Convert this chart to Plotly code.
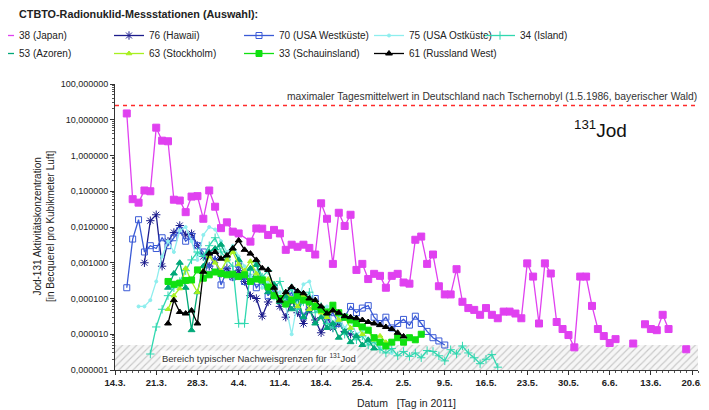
import pandas as pd
import plotly.graph_objects as go

BASE = pd.Timestamp("2011-03-14")

# ---------------- data (day = days after 14.3.2011, value in Bq/m3) ----------------
jp_days = [2, 3, 4, 5, 6, 7, 8, 9, 10, 11, 12, 13, 14, 15, 16, 17, 18, 19, 20, 21, 23, 24, 25, 26, 27,
           28, 29, 30, 31, 32, 33, 34, 35, 36, 37, 38, 39, 40, 41, 42, 43, 44, 45, 46, 47, 48, 49, 50,
           51, 52, 53, 54, 55, 56, 57, 58, 59, 60, 61, 62, 63, 64, 65, 66, 67, 68, 69, 70, 71, 72, 73,
           74, 75, 76, 77, 78, 79, 80, 81, 82, 83, 84, 85, 86, 88, 89, 90, 91, 92, 93, 94, 95, 97]
jp_vals = [15, 0.06, 0.048, 0.105, 0.10, 6.0, 2.6, 2.5, 0.058, 0.055, 0.026, 0.071, 0.073, 0.017,
           0.105, 0.037, 0.0093, 0.0135, 0.0074, 0.0066, 0.0039, 0.0091, 0.009, 0.006, 0.0083,
           0.0066, 0.0023, 0.0032, 0.0028, 0.0032, 0.0026, 0.0017, 0.046, 0.017, 0.00093, 0.025,
           0.0107, 0.022, 0.00063, 0.00093, 0.00035, 0.00049, 0.00043, 0.0002, 0.00043, 0.00049,
           0.00028, 0.00026, 0.0044, 0.0054, 0.00093, 0.0017, 0.00022, 0.00013, 0.00013, 0.00066,
           8.1e-5, 5.4e-5, 4.8e-5, 3.5e-5, 5.4e-5, 3.5e-5, 2.8e-5, 4.3e-5, 4.3e-5, 3.8e-5, 2.8e-5,
           9.6e-4, 4.1e-4, 2e-5, 9.6e-4, 5e-4, 2.2e-5, 1.4e-5, 9.5e-6, 4.3e-6, 4.1e-4, 4.1e-4,
           6.2e-5, 1.4e-5, 8.9e-6, 5.7e-6, 7.3e-6, None, 5.5e-6, None, 1.9e-5, 1.4e-5, 1.3e-5,
           3.5e-5, 1.4e-5, None, 3.8e-6]

hw_days = list(range(5, 41))
hw_vals = [0.001, 0.015, 0.022, 0.0008, 0.004, 0.007, 0.011, 0.006, 0.0065, 0.003, 0.0015, 0.0008,
           0.0012, 0.0005, 0.0007, 0.0004, 0.0006, 0.0003, 0.00012, 0.0001, 3.2e-5, 8e-5, 1.5e-4,
           6e-5, 3e-5, 9e-5, 4e-5, 2e-5, 5e-5, 2.5e-5, 1.1e-5, 3e-5, 1.5e-5, 2e-5, 1.2e-5, 1e-5]

uw_days = list(range(2, 57))
uw_vals = [2e-4, 4.6e-3, 0.016, 2e-3, 3e-3, 2.5e-3, 5e-3, 3e-3, 5e-3, 8e-3, 4e-3, 5.5e-3, 3e-3,
           2e-3, 7e-4, 1.5e-3, 2.4e-4, 6e-4, 4e-4, 9e-4, 3e-4, 5e-4, 2e-4, 3e-4, 1.2e-4, 2e-4, 1e-4,
           8.7e-5, 1.5e-4, 6e-5, 3.2e-5, 6e-5, 1e-4, 5e-5, 2.5e-5, 4e-5, 2e-5, 3e-5, 6e-5, 4e-5,
           5.4e-5, 6.3e-5, 3e-5, 2e-5, 3e-5, 1.5e-5, 2e-5, 2.6e-5, 1.8e-5, 3.2e-5, 2e-5, 1.2e-5,
           8e-6, 6.5e-6, 5e-6]

uo_days = list(range(4, 48))
uo_vals = [6e-5, 6e-5, 9e-5, 3e-4, 1.5e-3, 4e-3, 2e-3, 8e-3, 0.01, 4e-3, 1.2e-3, 6e-3, 0.01, 8.5e-3,
           4e-3, 2e-3, 3e-3, 1.5e-3, 8e-4, 4e-4, 6e-4, 2e-4, 3e-4, 1e-4, 1.5e-4, 6e-5, 1e-5, 8e-5,
           2.5e-4, 3e-4, 8e-5, 4e-5, 6e-5, 2e-5, 3e-5, 1.5e-5, 2.5e-5, 1e-5, 1.3e-5, 6e-6, 8e-6,
           4e-6, 5e-6, 3e-6]

is_days = list(range(6, 66))
is_vals = [2.8e-6, 1.6e-5, 5e-5, 1.2e-4, 2e-4, 3e-4, 6e-4, 1.2e-3, 2e-3, 1.5e-3, 3e-3, 5e-3, 2e-3,
           1.2e-3, 8e-4, 2e-5, 2e-5, 6e-4, 1e-3, 4e-4, 6e-4, 2e-4, 3e-4, 1e-4, 2e-4, 5e-5, 8e-5,
           1.5e-4, 4e-5, 6e-5, 2e-5, 1.5e-5, 2.5e-5, 1e-5, 1.4e-5, 7e-6, 9e-6, 5e-6, 6e-6, 3.8e-6,
           3e-6, 4e-6, 2.5e-6, 3.3e-6, 2.4e-6, 3e-6, 2.2e-6, 3.5e-6, 3.3e-6, 2.5e-6, 1.8e-6, 3.7e-6,
           2.8e-6, 4.7e-6, 3e-6, 2.2e-6, 1.5e-6, 2e-6, 2.7e-6, 1.2e-6]

az_days = list(range(9, 45))
az_vals = [2e-4, 5e-4, 1e-3, 2e-4, 1.3e-5, 1.5e-4, 8e-4, 2e-3, 2.5e-3, 3.2e-3, 1.5e-3, 2.5e-3,
           1.2e-3, 5e-4, 7e-4, 8.7e-4, 3e-4, 1.5e-4, 2.5e-4, 8e-5, 1.2e-4, 5e-5, 1e-4, 3e-5, 5e-5,
           2e-5, 3e-5, 1.5e-5, 2e-5, 8e-6, 1.2e-5, 6e-6, 9e-6, 5e-6, 7e-6, 4e-6]

st_days = list(range(9, 47))
st_vals = [5e-5, 1.2e-4, 1.9e-4, 7e-4, 3e-4, 1.5e-4, 6e-4, 1.5e-3, 1e-3, 6e-4, 1.2e-3, 2e-3, 9e-4,
           6e-4, 1.1e-3, 5e-4, 3e-4, 3.5e-4, 2e-4, 9e-5, 1.5e-4, 1e-4, 6e-5, 1.2e-4, 5e-5, 7e-5,
           4e-5, 3e-5, 5e-5, 2.5e-5, 3e-5, 1.5e-5, 2e-5, 1e-5, 1.2e-5, 7e-6, 9e-6, 6e-6]

sc_days = list(range(9, 53))
sc_vals = [3e-4, 2.5e-4, 2.7e-4, 3.2e-4, 3.3e-4, 6.3e-4, 3.7e-4, 4.6e-4, 5.5e-4, 5e-4, 4.6e-4,
           4.8e-4, 4.1e-4, 4.6e-4, 3e-4, 3.5e-4, 3.3e-4, 2.1e-4, 1.2e-4, 1e-4, 7e-5, 9e-5, 1.2e-4,
           9e-5, 8e-5, 6e-5, 5e-5, 4.2e-5, 6.5e-5, 4e-5, 3e-5, 2.5e-5, 2e-5, 1.6e-5, 1.3e-5, 8e-6,
           6e-6, 4.7e-6, 6e-6, 8e-6, 6e-6, 8e-6, 7e-6, 1e-5]

ru_days = list(range(9, 50))
ru_vals = [2e-5, 9e-5, 4.2e-5, 3.8e-5, 4.6e-5, 2e-5, 5.6e-4, 1.8e-3, 2e-3, 1.3e-3, 1.6e-3, 2.5e-3,
           4.2e-3, 2.3e-3, 1.8e-3, 1.2e-3, 7e-4, 6.3e-4, 2e-4, 8.7e-5, 1.5e-4, 2.1e-4, 1.6e-4,
           1.4e-4, 1e-4, 9e-5, 6e-5, 3.8e-5, 4.6e-5, 4e-5, 3.2e-5, 3e-5, 2.8e-5, 2.5e-5, 2.2e-5,
           2e-5, 1.8e-5, 1.6e-5, 1.4e-5, 1.1e-5, 8.7e-6]

station_names = ["38 (Japan)", "76 (Hawaii)", "70 (USA Westküste)", "75 (USA Ostküste)",
                 "34 (Island)", "53 (Azoren)", "63 (Stockholm)", "33 (Schauinsland)",
                 "61 (Russland West)"]
station_days = [jp_days, hw_days, uw_days, uo_days, is_days, az_days, st_days, sc_days, ru_days]
station_vals = [jp_vals, hw_vals, uw_vals, uo_vals, is_vals, az_vals, st_vals, sc_vals, ru_vals]

chernobyl_max = 25.0          # max. Tagesmittelwert 1.5.1986
limit_low, limit_high = 1e-6, 5e-6   # Bereich typischer Nachweisgrenzen
axis_start, axis_end = "2011-03-14", "2011-06-21"

tick_days = list(range(0, 99, 7))
tick_labels = ["14.3.", "21.3.", "28.3.", "4.4.", "11.4.", "18.4.", "25.4.", "2.5.", "9.5.",
               "16.5.", "23.5.", "30.5.", "6.6.", "13.6.", "20.6."]
y_ticks = [1e-6, 1e-5, 1e-4, 1e-3, 1e-2, 1e-1, 1, 10, 100]
y_labels = ["0,000001", "0,000010", "0,000100", "0,001000", "0,010000", "0,100000",
            "1,000000", "10,000000", "100,000000"]

# ---------------- styles ----------------
styles = [
    dict(color="#e040f0", symbol="square", size=7, legend="legend"),
    dict(color="#1c1c8c", symbol="asterisk-open", size=7, legend="legend"),
    dict(color="#3a5ad6", symbol="square-open", size=6, legend="legend"),
    dict(color="#8eeeee", symbol="circle", size=3, legend="legend"),
    dict(color="#30d8b0", symbol="cross-thin-open", size=6, legend="legend3"),
    dict(color="#00a878", symbol="triangle-up", size=6, legend="legend2"),
    dict(color="#a8f020", symbol="triangle-up", size=5, legend="legend2"),
    dict(color="#10e010", symbol="square", size=6, legend="legend2"),
    dict(color="#000000", symbol="triangle-up", size=6, legend="legend2"),
]

FONT = "Liberation Sans, Arial, sans-serif"
W, H = 709, 410
ML, MR, MT, MB = 107, 19, 76, 48
PW, PH = W - ML - MR, H - MT - MB


def px_x(px):
    return (px - ML) / PW


def px_y(px):
    return (H - MB - px) / PH


def to_dates(days):
    return BASE + pd.to_timedelta(days, unit="D")


fig = go.Figure()

# hatched band of typical detection limits
fig.add_trace(go.Scatter(
    x=[axis_start, axis_end, axis_end, axis_start, axis_start],
    y=[limit_low, limit_low, limit_high, limit_high, limit_low],
    mode="lines", fill="toself", line=dict(width=0),
    fillcolor="rgba(0,0,0,0)",
    fillpattern=dict(shape="/", fgcolor="#9a9a9a", bgcolor="#f6f6f6", size=5, solidity=0.22),
    showlegend=False, hoverinfo="skip"))

# red dashed reference line
fig.add_trace(go.Scatter(
    x=[axis_start, axis_end], y=[chernobyl_max, chernobyl_max], mode="lines",
    line=dict(color="#ff2a2a", width=1.5, dash="4px,4px"),
    showlegend=False, hoverinfo="skip"))

for name, days, vals, st in zip(station_names, station_days, station_vals, styles):
    fig.add_trace(go.Scatter(
        x=to_dates(days), y=vals, name=name, mode="lines+markers",
        connectgaps=False, legend=st["legend"],
        line=dict(color=st["color"], width=1.3),
        marker=dict(color=st["color"], symbol=st["symbol"], size=st["size"],
                    line=dict(color=st["color"], width=1)),
    ))

minor_y = [m * 10.0 ** e for e in range(-6, 2) for m in range(2, 10)]

legend_common = dict(orientation="h", xref="paper", yref="paper", xanchor="left",
                     yanchor="top", entrywidth=85, entrywidthmode="pixels",
                     font=dict(family=FONT, size=10, color="#222"),
                     bgcolor="rgba(0,0,0,0)", itemclick=False, itemdoubleclick=False)

fig.update_layout(
    width=W, height=H,
    margin=dict(l=ML, r=MR, t=MT, b=MB, autoexpand=False),
    paper_bgcolor="white", plot_bgcolor="white",
    font=dict(family=FONT, size=10, color="#222"),
    title=dict(text="<b>CTBTO-Radionuklid-Messstationen (Auswahl):</b>",
               x=11 / W, xanchor="left", y=1 - 6 / H, yanchor="middle",
               font=dict(family=FONT, size=10.8, color="#222")),
    legend=dict(legend_common, x=px_x(-29), y=px_y(13)),
    legend2=dict(legend_common, x=px_x(-29), y=px_y(31)),
    legend3=dict(legend_common, xref="container", x=472 / W, y=px_y(13),
                 entrywidth=60),
    xaxis=dict(type="date", range=[axis_start, axis_end],
               tickmode="array", tickvals=to_dates(tick_days), ticktext=tick_labels,
               tickfont=dict(family=FONT, size=9.5, color="#222", weight="bold"),
               ticks="outside", ticklen=4, tickcolor="#333",
               showline=True, linecolor="#333", linewidth=1, showgrid=False, zeroline=False,
               minor=dict(dtick=86400000, tick0=axis_start, ticks="outside", ticklen=2,
                          tickcolor="#555", showgrid=False)),
    yaxis=dict(type="log", range=[-6, 2],
               tickmode="array", tickvals=y_ticks, ticktext=y_labels,
               tickfont=dict(family=FONT, size=9, color="#222"),
               ticks="outside", ticklen=4, tickcolor="#333",
               showline=True, linecolor="#333", linewidth=1, showgrid=False, zeroline=False,
               minor=dict(tickmode="array", tickvals=minor_y, ticks="outside", ticklen=2,
                          tickcolor="#555", showgrid=False)),
)

fig.add_annotation(
    text="Jod-131 Aktivitätskonzentration<br>[in Becquerel pro Kubikmeter Luft]",
    xref="paper", yref="paper", x=px_x(36), xanchor="center", y=0.5, yanchor="middle",
    textangle=-90, showarrow=False, font=dict(family=FONT, size=10, color="#222"))

fig.add_annotation(
    text="Datum   [Tag in 2011]", xref="paper", yref="paper",
    x=0.5, xanchor="center", y=px_y(395), yanchor="middle", showarrow=False,
    font=dict(family=FONT, size=10.5, color="#222"))

fig.add_annotation(
    text="maximaler Tagesmittelwert in Deutschland nach Tschernobyl (1.5.1986, bayerischer Wald)",
    xref="paper", yref="paper", x=px_x(691), xanchor="right",
    y=px_y(89), yanchor="middle", showarrow=False,
    font=dict(family=FONT, size=10.3, color="#333"))

fig.add_annotation(
    text="<sup>131</sup>Jod", xref="paper", yref="paper", x=px_x(564), xanchor="left",
    y=px_y(121), yanchor="middle", showarrow=False,
    font=dict(family=FONT, size=19, color="#111"))

fig.add_annotation(
    text="Bereich typischer Nachweisgrenzen für <sup>131</sup>Jod",
    xref="paper", yref="paper", x=px_x(152), xanchor="left",
    y=px_y(350), yanchor="middle", showarrow=False,
    bgcolor="rgba(255,255,255,0.85)", borderpad=1,
    font=dict(family=FONT, size=9.5, color="#333"))

fig.write_html("out.html")
